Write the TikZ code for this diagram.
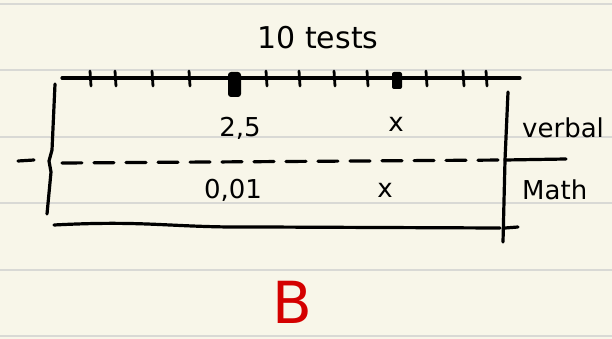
\documentclass[tikz,border=0pt]{standalone}
\usepackage{fontspec}
\setmainfont{DejaVu Sans}
\definecolor{paper}{HTML}{F8F6E9}
\definecolor{rule}{HTML}{D9D9D5}
\definecolor{inkred}{HTML}{D40000}
\tikzset{
  ink/.style={line width=3.2pt, line cap=round, line join=round, black},
  tick/.style={line width=2.8pt, line cap=round, black},
  hand/.style={font=\fontsize{26}{26}\selectfont, inner sep=0pt, anchor=center},
  dashline/.style={ink, dash pattern=on 20pt off 12pt},
}
\begin{document}
\begin{tikzpicture}[x=1pt,y=-1pt]
\fill[paper] (0,0) rectangle (612,339);
\useasboundingbox (0,0) rectangle (612,339);
% ruled lines
\foreach \yy in {4,70,137,203,270,336}
  \draw[rule, line width=1.5pt] (0,\yy) -- (612,\yy);
% title
\node[hand, font=\fontsize{30}{30}\selectfont] (title) at (318,38) {10 tests};
% top axis
\coordinate (axl) at (62,78);
\coordinate (axr) at (520,78);
\draw[ink] (axl) -- (axr);
\foreach \xx in {90,115,152,189,266,299,334,367,426,463,486}
  \draw[tick] (\xx,71) -- (\xx+1,86);
\fill[black, rounded corners=3pt] (228,72) rectangle (241,97);
\fill[black, rounded corners=2pt] (392,72) rectangle (402,89);
% left bracket
\draw[ink] (55,84) -- (52,150) -- (49,161) -- (51,172) -- (47,214);
\draw[ink] (18,161) -- (34,160);
% right bracket
\draw[ink] (508,92) -- (505,160) -- (503,242);
\draw[ink] (505,228) -- (518,227);
% bottom line
\draw[ink] (54,225) .. controls (150,220) and (170,228) .. (260,227) -- (500,228);
% dashed separator
\draw[dashline] (62,163) -- (505,160);
\draw[ink] (505,160) -- (566,159);
% values
\node[hand] (v1) at (240,128) {2,5};
\node[hand] (x1) at (396,124) {x};
\node[hand] (v2) at (233,190) {0,01};
\node[hand] (x2) at (385,190) {x};
% row labels
\node[hand, anchor=west] (verbal) at (522,128) {verbal};
\node[hand, anchor=west] (math) at (522,190) {Math};
% red B
\node[hand, text=inkred, font=\fontsize{58}{58}\selectfont] (B) at (292,302) {B};
\end{tikzpicture}
\end{document}
